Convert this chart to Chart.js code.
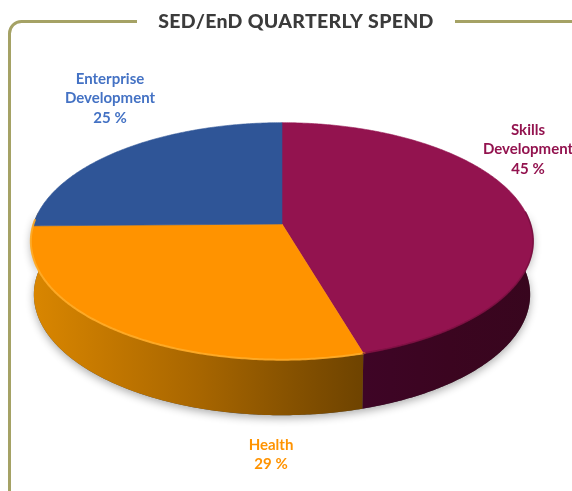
<!DOCTYPE html>
<html>
<head>
<meta charset="utf-8">
<style>html,body{margin:0;padding:0;background:#fff}canvas{display:block}</style>
<script src="https://cdn.jsdelivr.net/npm/chart.js@4"></script>
</head>
<body>
<canvas id="c" width="572" height="491"></canvas>
<script>
const chartTitle = "SED/EnD QUARTERLY SPEND";
const categories = ["Skills Development", "Health", "Enterprise Development"];
const labelLines = [["Skills", "Development"], ["Health"], ["Enterprise", "Development"]];
const values = [45, 29, 25];
const topColors = ["#93134f", "#ff9300", "#2f5597"];

const K = 0.145, SX = 248.5 / 224, SY = 116 / 224, DEPTH = 53;
const labelPos = [{x:528,y:130}, {x:271,y:445}, {x:110,y:79}];

function project(arc, a, level) {
  const X = Math.cos(a), Y = Math.sin(a), d = 1 - K * Y;
  const r = arc.outerRadius;
  return {
    x: arc.x + r * SX * X / d * (1 - 0.012 * level),
    y: arc.y + r * SY * Y / d + level * DEPTH / Math.pow(d, 0.3)
  };
}
function rimPath(ctx, arc, a0, a1, level, move) {
  const n = Math.max(2, Math.ceil(Math.abs(a1 - a0) / 0.01));
  for (let i = 0; i <= n; i++) {
    const p = project(arc, a0 + (a1 - a0) * i / n, level);
    if (i === 0 && move) ctx.moveTo(p.x, p.y); else ctx.lineTo(p.x, p.y);
  }
}
function wallPath(ctx, arc, a0, a1) {
  ctx.beginPath();
  rimPath(ctx, arc, a0, a1, 0, true);
  rimPath(ctx, arc, a1, a0, 1, false);
  ctx.closePath();
}

// Top faces are drawn by the library's own arc elements, seen in perspective.
Chart.ArcElement.prototype.draw = function (ctx) {
  const o = this.options;
  ctx.save();
  ctx.beginPath();
  ctx.moveTo(this.x, this.y);
  rimPath(ctx, this, this.startAngle, this.endAngle, 0, false);
  ctx.closePath();
  ctx.fillStyle = o.backgroundColor;
  ctx.strokeStyle = o.backgroundColor;
  ctx.lineWidth = 0.6;
  ctx.fill();
  ctx.stroke();
  ctx.restore();
};

const pie3d = {
  id: "pie3d",
  beforeDatasetsDraw(chart) {
    const ctx = chart.ctx, arcs = chart.getDatasetMeta(0).data;
    const a = arcs[0], lo = Math.asin(K) - 0.25, hi = Math.PI - Math.asin(K) + 0.25;
    const split = arcs[0].endAngle;
    // soft shadow
    ctx.save();
    ctx.shadowColor = "rgba(0,0,0,0.32)";
    ctx.shadowBlur = 9;
    ctx.shadowOffsetY = 3;
    wallPath(ctx, a, lo, hi);
    ctx.fillStyle = "#555";
    ctx.fill();
    ctx.restore();
    // Skills wall
    let g = ctx.createLinearGradient(363, 0, 533, 0);
    g.addColorStop(0, "#3e0526");
    g.addColorStop(0.5, "#3b0520");
    g.addColorStop(1, "#38061e");
    wallPath(ctx, a, lo, split);
    ctx.fillStyle = g;
    ctx.fill();
    // Health wall
    g = ctx.createLinearGradient(33, 0, 363, 0);
    g.addColorStop(0, "#d98600");
    g.addColorStop(0.22, "#c47800");
    g.addColorStop(0.5, "#a86600");
    g.addColorStop(0.75, "#8a5400");
    g.addColorStop(1, "#6e4300");
    wallPath(ctx, a, split, hi);
    ctx.fillStyle = g;
    ctx.fill();
  },
  afterDatasetsDraw(chart) {
    const ctx = chart.ctx, arcs = chart.getDatasetMeta(0).data;
    const h = arcs[1], m = arcs[0];
    // bevelled rim of the top face
    ctx.save();
    ctx.lineCap = "round";
    ctx.beginPath();
    rimPath(ctx, h, h.startAngle - 0.005, h.endAngle + 0.05, 0, true);
    ctx.strokeStyle = "rgba(255,172,40,0.9)";
    ctx.lineWidth = 2;
    ctx.stroke();
    ctx.beginPath();
    rimPath(ctx, m, m.endAngle, Math.asin(K) - 0.25, 0, true);
    ctx.strokeStyle = "rgba(120,14,62,0.8)";
    ctx.lineWidth = 1.6;
    ctx.stroke();
    ctx.restore();
  },
  afterDraw(chart) {
    const ctx = chart.ctx;
    ctx.save();
    // frame
    ctx.strokeStyle = "#a5a265";
    ctx.lineWidth = 3;
    ctx.beginPath();
    ctx.moveTo(137, 21.5);
    ctx.lineTo(22, 21.5);
    ctx.arcTo(9.5, 21.5, 9.5, 34, 12);
    ctx.lineTo(9.5, 491);
    ctx.moveTo(455, 21.5);
    ctx.lineTo(572, 21.5);
    ctx.stroke();
    // title
    ctx.fillStyle = "#3b3b3b";
    ctx.font = "900 19.5px Lato";
    ctx.letterSpacing = "0.3px";
    ctx.textAlign = "center";
    ctx.textBaseline = "alphabetic";
    ctx.fillText(chartTitle, 296, 28);
    // slice labels
    ctx.letterSpacing = "0px";
    ctx.font = "bold 15px Lato";
    ctx.textBaseline = "middle";
    values.forEach((v, i) => {
      const lines = labelLines[i].concat([v + " %"]);
      const pos = labelPos[i];
      ctx.fillStyle = i === 2 ? "#4472c4" : topColors[i];
      lines.forEach((t, j) => ctx.fillText(t, pos.x, pos.y + j * 19.5));
    });
    ctx.restore();
  }
};

new Chart(document.getElementById("c"), {
  type: "pie",
  data: {
    labels: categories,
    datasets: [{ data: values, backgroundColor: topColors, borderWidth: 0 }]
  },
  options: {
    responsive: false,
    animation: false,
    devicePixelRatio: 1,
    layout: { padding: { left: 31, right: 39, top: 0, bottom: 43 } },
    plugins: { legend: { display: false }, title: { display: false }, tooltip: { enabled: false } }
  },
  plugins: [pie3d]
});
</script>
</body>
</html>
